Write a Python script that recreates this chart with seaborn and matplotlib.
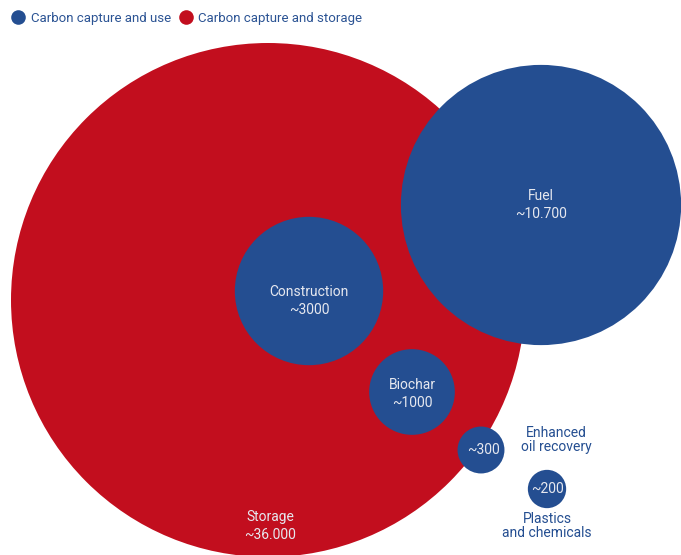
import matplotlib
matplotlib.use("Agg")
import matplotlib.pyplot as plt
from matplotlib.lines import Line2D
import seaborn as sns
import pandas as pd

# ---- data ----
categories = ["Storage", "Fuel", "Construction", "Biochar",
              "Enhanced\noil recovery", "Plastics\nand chemicals"]
values = [36000, 10700, 3000, 1000, 300, 200]
value_labels = ["~36.000", "~10.700", "~3000", "~1000", "~300", "~200"]
groups = ["Carbon capture and storage", "Carbon capture and use",
          "Carbon capture and use", "Carbon capture and use",
          "Carbon capture and use", "Carbon capture and use"]
legend_order = ["Carbon capture and use", "Carbon capture and storage"]

# ---- layout (pixel coordinates of bubble centres) ----
bx = [268, 541, 309, 412, 481, 547]
by = [300, 205, 291, 392, 450, 489]

BLUE = "#244E91"
RED = "#C20E1E"
palette = {"Carbon capture and use": BLUE, "Carbon capture and storage": RED}

sns.set_theme(style="white")
plt.rcParams["font.family"] = ["Roboto", "DejaVu Sans"]

W, H, DPI = 681, 555, 100
fig = plt.figure(figsize=(W / DPI, H / DPI), dpi=DPI)
ax = fig.add_axes([0, 0, 1, 1])

df = pd.DataFrame({"x": bx, "y": by, "value": values, "group": groups,
                   "cat": categories})

r_max_px = 257
s_max = (2 * r_max_px * 72 / DPI) ** 2
sns.scatterplot(data=df, x="x", y="y", hue="group", size="value",
                palette=palette, sizes=(0, s_max), size_norm=(0, max(values)),
                linewidth=0, alpha=1, legend=False, ax=ax)

ax.set_xlim(0, W)
ax.set_ylim(H, 0)
ax.set_axis_off()

TXT_IN = "#E6E8EF"
fs = 10
# labels inside bubbles
ax.text(270, 526, "Storage\n~36.000", ha="center", va="center", color=TXT_IN,
        fontsize=fs, linespacing=1.3)
ax.text(541, 205, "Fuel\n~10.700", ha="center", va="center", color=TXT_IN,
        fontsize=fs, linespacing=1.3)
ax.text(309, 301, "Construction\n~3000", ha="center", va="center", color=TXT_IN,
        fontsize=fs, linespacing=1.3)
ax.text(412, 394, "Biochar\n~1000", ha="center", va="center", color=TXT_IN,
        fontsize=fs, linespacing=1.3)
ax.text(483, 450, value_labels[4], ha="center", va="center", color=TXT_IN,
        fontsize=fs)
ax.text(547, 489, value_labels[5], ha="center", va="center", color=TXT_IN,
        fontsize=fs)
# labels beside small bubbles
ax.text(556, 440, categories[4], ha="center", va="center", color=BLUE,
        fontsize=fs, linespacing=1.0)
ax.text(547, 526, categories[5], ha="center", va="center", color=BLUE,
        fontsize=fs, linespacing=1.0)

handles = [Line2D([], [], marker="o", linestyle="", markersize=10.5,
                  markerfacecolor=palette[g], markeredgewidth=0)
           for g in legend_order]
leg = fig.legend(handles, legend_order, loc="upper left",
                 bbox_to_anchor=(0.0, 1.0), ncol=2, frameon=False,
                 fontsize=9.5, handletextpad=0.45, columnspacing=0.6,
                 borderaxespad=0.5, handlelength=1.0)
for t in leg.get_texts():
    t.set_color("#2C5494")

fig.savefig("out.png", dpi=DPI)
